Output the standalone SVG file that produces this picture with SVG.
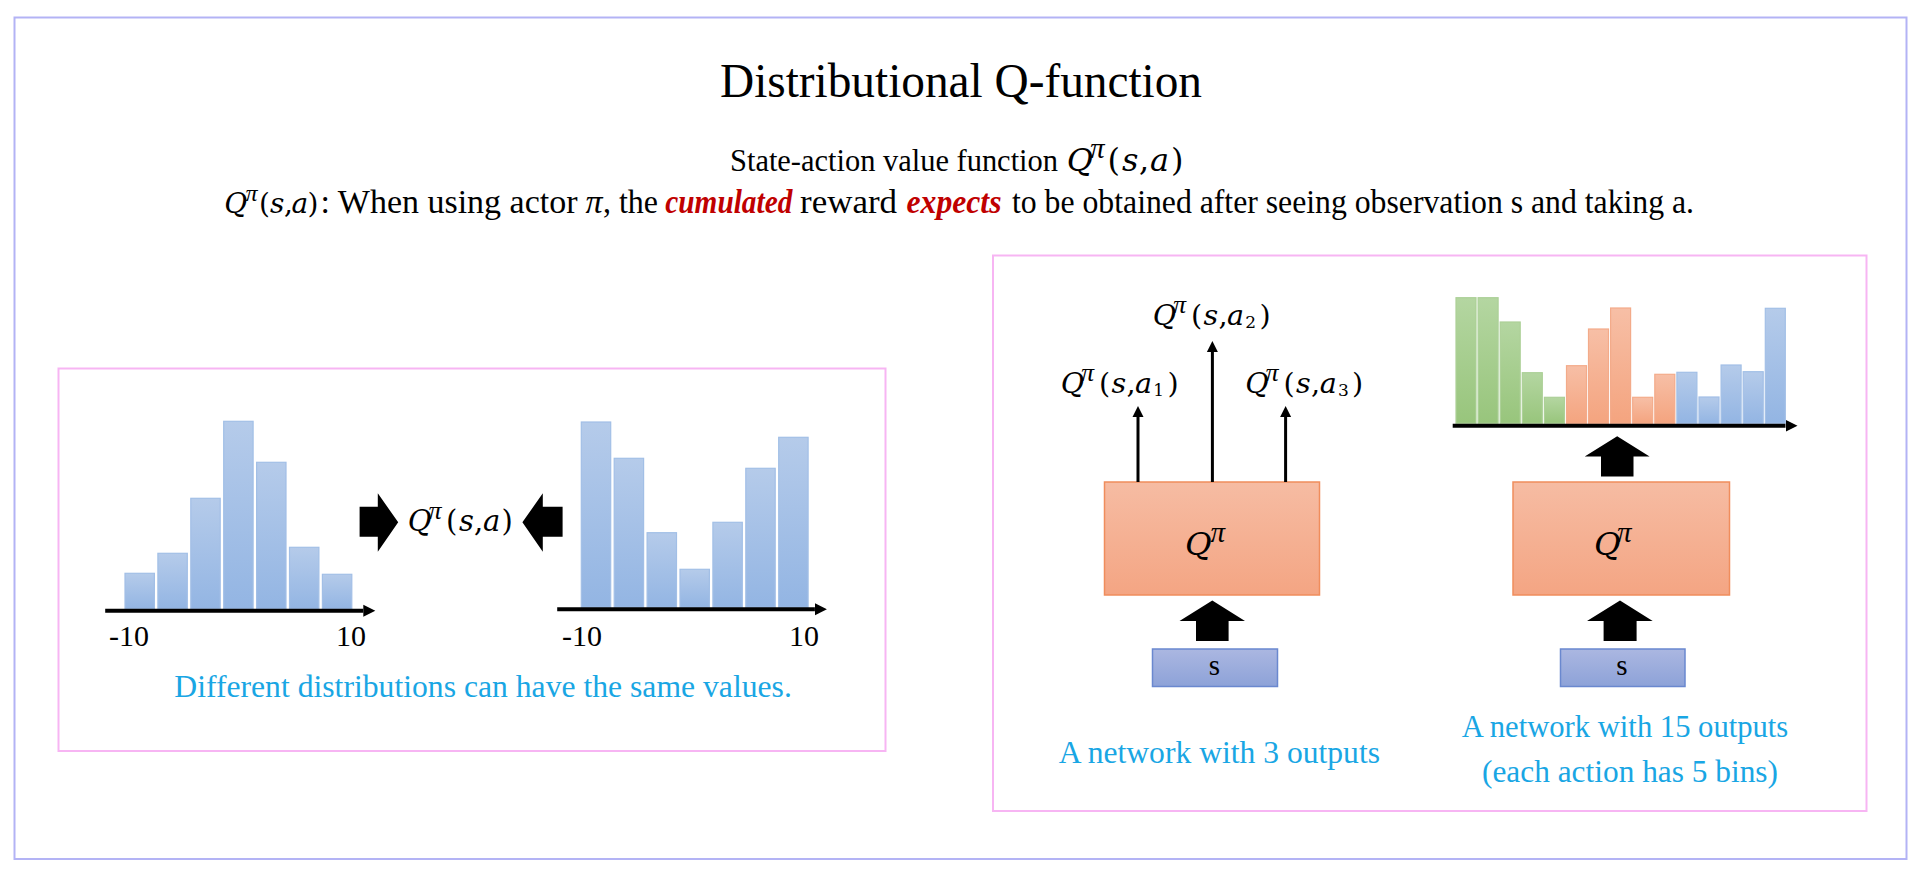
<svg xmlns="http://www.w3.org/2000/svg" width="1919" height="876" viewBox="0 0 1919 876">
<defs>
<style>
.t{font-family:"Liberation Serif","Times New Roman",serif;fill:#000}
.m{font-family:"DejaVu Serif","Liberation Serif",serif;fill:#000}
.p{font-family:"Liberation Serif","Times New Roman",serif;font-style:italic}
.i{font-style:italic}
.red{fill:#c00000;font-weight:bold;font-style:italic}
.cap{fill:#19a6e4}
.bB{fill:url(#gB);stroke:#a2bfe6;stroke-width:1.2}
.bG{fill:url(#gG);stroke:#acd097;stroke-width:1.2}
.bO{fill:url(#gO);stroke:#f3ab8a;stroke-width:1.2}
.qbox{fill:url(#gQ);stroke:#f08d5c;stroke-width:1.5}
.sbox{fill:url(#gS);stroke:#6a88cf;stroke-width:1.5}
.thin{stroke:#000;stroke-width:3;fill:none}
.axis{stroke:#000;stroke-width:4;fill:none}
.blk{fill:#000}
</style>
<linearGradient id="gB" x1="0" y1="0" x2="0" y2="1"><stop offset="0" stop-color="#b5cbea"/><stop offset="1" stop-color="#93b5e3"/></linearGradient>
<linearGradient id="gG" x1="0" y1="0" x2="0" y2="1"><stop offset="0" stop-color="#b4d6a1"/><stop offset="1" stop-color="#98c57c"/></linearGradient>
<linearGradient id="gO" x1="0" y1="0" x2="0" y2="1"><stop offset="0" stop-color="#f7bfa6"/><stop offset="1" stop-color="#f4a47f"/></linearGradient>
<linearGradient id="gQ" x1="0" y1="0" x2="0" y2="1"><stop offset="0" stop-color="#f6bca3"/><stop offset="1" stop-color="#f4a583"/></linearGradient>
<linearGradient id="gS" x1="0" y1="0" x2="0" y2="1"><stop offset="0" stop-color="#abb7e1"/><stop offset="1" stop-color="#8da2d8"/></linearGradient>
<marker id="ah" markerUnits="userSpaceOnUse" markerWidth="12" markerHeight="12" viewBox="0 -6 12 12" refX="1" refY="0" orient="auto"><path d="M0,-5.5 L11,0 L0,5.5 z" fill="#000"/></marker>
<marker id="ahx" markerUnits="userSpaceOnUse" markerWidth="14" markerHeight="14" viewBox="0 -7 14 14" refX="0" refY="0" orient="auto"><path d="M0,-6 L12,0 L0,6 z" fill="#000"/></marker>
</defs>

<rect x="0" y="0" width="1919" height="876" fill="#fff"/>
<rect id="frame" x="14.5" y="17.5" width="1892" height="841.5" fill="none" stroke="#b3b3f5" stroke-width="2"/>

<g id="header">
<text class="t" x="720" y="97" font-size="48" textLength="482" lengthAdjust="spacingAndGlyphs">Distributional Q-function</text>
<text class="t" x="730" y="171" font-size="31" textLength="328" lengthAdjust="spacingAndGlyphs">State-action value function</text>
<text class="m" y="171" font-size="32"><tspan class="i" x="1066.7">Q</tspan><tspan class="p" x="1090" y="157.8" font-size="29">π</tspan><tspan x="1107.5" y="171">(</tspan><tspan class="i" x="1122">s</tspan><tspan x="1139">,</tspan><tspan class="i" x="1150">a</tspan><tspan x="1171">)</tspan></text>
<text class="m" y="213" font-size="28"><tspan class="i" x="224.2">Q</tspan><tspan class="p" x="245.5" y="200.5" font-size="24">π</tspan><tspan x="259" y="213">(</tspan><tspan class="i" x="270">s</tspan><tspan x="284">,</tspan><tspan class="i" x="291.5">a</tspan><tspan x="307.5">)</tspan></text>
<text class="t" x="320.5" y="213" font-size="33" textLength="257" lengthAdjust="spacingAndGlyphs">: When using actor</text>
<text class="t i" x="585.4" y="213" font-size="34">π</text>
<text class="t" x="603" y="213" font-size="33" textLength="55" lengthAdjust="spacingAndGlyphs">, the</text>
<text class="t red" x="665.3" y="213" font-size="33" textLength="127" lengthAdjust="spacingAndGlyphs">cumulated</text>
<text class="t" x="800" y="213" font-size="33" textLength="97" lengthAdjust="spacingAndGlyphs">reward</text>
<text class="t red" x="906.5" y="213" font-size="33" textLength="95" lengthAdjust="spacingAndGlyphs">expects</text>
<text class="t" x="1012" y="213" font-size="33" textLength="682" lengthAdjust="spacingAndGlyphs">to be obtained after seeing observation s and taking a.</text>
</g>

<g id="panel-left">
<rect x="58.5" y="368.5" width="827" height="382.5" fill="none" stroke="#f7b5f3" stroke-width="2"/>
<g id="hist-left">
<rect class="bB" x="125" y="573.3" width="29.4" height="35.7"/>
<rect class="bB" x="157.9" y="553.3" width="29.4" height="55.7"/>
<rect class="bB" x="190.8" y="498.3" width="29.4" height="110.7"/>
<rect class="bB" x="223.7" y="421.3" width="29.4" height="187.7"/>
<rect class="bB" x="256.6" y="462.3" width="29.4" height="146.7"/>
<rect class="bB" x="289.5" y="547.3" width="29.4" height="61.7"/>
<rect class="bB" x="322.4" y="574.3" width="29.4" height="34.7"/>
<line class="axis" x1="105.2" y1="610.7" x2="363.3" y2="610.7" marker-end="url(#ahx)"/>
<text class="t" x="109" y="646" font-size="30">-10</text>
<text class="t" x="336" y="646" font-size="30">10</text>
</g>
<g id="hist-right">
<rect class="bB" x="581.3" y="422" width="29.4" height="185.3"/>
<rect class="bB" x="614.2" y="458.3" width="29.4" height="149"/>
<rect class="bB" x="647.1" y="532.7" width="29.4" height="74.6"/>
<rect class="bB" x="680" y="569.3" width="29.4" height="38"/>
<rect class="bB" x="712.9" y="522.3" width="29.4" height="85"/>
<rect class="bB" x="745.8" y="468.3" width="29.4" height="139"/>
<rect class="bB" x="778.7" y="437.3" width="29.4" height="170"/>
<line class="axis" x1="557.2" y1="609.3" x2="814.9" y2="609.3" marker-end="url(#ahx)"/>
<text class="t" x="562" y="646" font-size="30">-10</text>
<text class="t" x="789" y="646" font-size="30">10</text>
</g>
<g id="q-value">
<text class="m" y="531" font-size="29"><tspan class="i" x="407.8">Q</tspan><tspan class="p" x="428.5" y="519.2" font-size="26">π</tspan><tspan x="446" y="531">(</tspan><tspan class="i" x="459">s</tspan><tspan x="474">,</tspan><tspan class="i" x="483">a</tspan><tspan x="501.5">)</tspan></text>
</g>
<text id="caption-left" class="t cap" x="174.3" y="696.7" font-size="31.5" textLength="617.5" lengthAdjust="spacingAndGlyphs">Different distributions can have the same values.</text>
</g>

<g id="panel-right">
<rect x="993" y="255.5" width="873.5" height="555.5" fill="none" stroke="#f7b5f3" stroke-width="2"/>
<g id="qnet-3">
<rect class="qbox" x="1104.5" y="482" width="215" height="113"/>
<text class="m" y="555" font-size="32.5"><tspan class="i" x="1185">Q</tspan><tspan class="p" x="1210.5" y="541.7" font-size="29">π</tspan></text>
</g>
<g id="s-3">
<rect class="sbox" x="1152.5" y="649" width="125" height="37.5"/>
<text class="t" x="1214.5" y="675" font-size="29" text-anchor="middle">s</text>
</g>
<g id="label-a1">
<text class="m" y="393" font-size="28.6"><tspan class="i" x="1060.7">Q</tspan><tspan class="p" x="1081" y="381.3" font-size="26">π</tspan><tspan x="1099" y="393">(</tspan><tspan class="i" x="1111.5">s</tspan><tspan x="1126.5">,</tspan><tspan class="i" x="1135.1">a</tspan><tspan x="1153.3" y="396.3" font-size="17">1</tspan><tspan x="1167.5" y="393">)</tspan></text>
</g>
<g id="label-a2">
<text class="m" y="325" font-size="28.6"><tspan class="i" x="1152.7">Q</tspan><tspan class="p" x="1173" y="313.3" font-size="26">π</tspan><tspan x="1191" y="325">(</tspan><tspan class="i" x="1203.5">s</tspan><tspan x="1218.5">,</tspan><tspan class="i" x="1227.1">a</tspan><tspan x="1245.3" y="328.3" font-size="17">2</tspan><tspan x="1259.5" y="325">)</tspan></text>
</g>
<g id="label-a3">
<text class="m" y="393" font-size="28.6"><tspan class="i" x="1245.3">Q</tspan><tspan class="p" x="1265.6" y="381.3" font-size="26">π</tspan><tspan x="1283.6" y="393">(</tspan><tspan class="i" x="1296.1">s</tspan><tspan x="1311.1">,</tspan><tspan class="i" x="1319.7">a</tspan><tspan x="1337.9" y="396.3" font-size="17">3</tspan><tspan x="1352.1" y="393">)</tspan></text>
</g>
<text id="caption-3" class="t cap" x="1058.7" y="762.7" font-size="32" textLength="321.3" lengthAdjust="spacingAndGlyphs">A network with 3 outputs</text>

<g id="hist-15">
<rect class="bG" x="1456" y="297.7" width="20" height="125.6"/>
<rect class="bG" x="1478.1" y="297.7" width="20" height="125.6"/>
<rect class="bG" x="1500.2" y="322" width="20" height="101.3"/>
<rect class="bG" x="1522.3" y="372.7" width="20" height="50.6"/>
<rect class="bG" x="1544.4" y="397.3" width="20" height="26"/>
<rect class="bO" x="1566.5" y="365.7" width="20" height="57.6"/>
<rect class="bO" x="1588.5" y="329" width="20" height="94.3"/>
<rect class="bO" x="1610.6" y="308" width="20" height="115.3"/>
<rect class="bO" x="1632.7" y="397.3" width="20" height="26"/>
<rect class="bO" x="1654.8" y="374.3" width="20" height="49"/>
<rect class="bB" x="1676.9" y="372.3" width="20" height="51"/>
<rect class="bB" x="1699" y="397" width="20" height="26.3"/>
<rect class="bB" x="1721.1" y="365" width="20" height="58.3"/>
<rect class="bB" x="1743.2" y="371.7" width="20" height="51.6"/>
<rect class="bB" x="1765.3" y="308.3" width="20" height="115"/>
<line class="axis" x1="1452.7" y1="425.7" x2="1785.5" y2="425.7" marker-end="url(#ahx)"/>
</g>
<g id="qnet-15">
<rect class="qbox" x="1513" y="482" width="216.5" height="113"/>
<text class="m" y="555" font-size="32.5"><tspan class="i" x="1594">Q</tspan><tspan class="p" x="1617" y="541.7" font-size="29">π</tspan></text>
</g>
<g id="s-15">
<rect class="sbox" x="1560.5" y="649" width="124.5" height="37.5"/>
<text class="t" x="1622" y="675" font-size="29" text-anchor="middle">s</text>
</g>
<text id="caption-15" class="t cap" font-size="32"><tspan x="1461.7" y="736.7" textLength="326.6" lengthAdjust="spacingAndGlyphs">A network with 15 outputs</tspan><tspan x="1482" y="781.7" textLength="296" lengthAdjust="spacingAndGlyphs">(each action has 5 bins)</tspan></text>
</g>

<g id="connectors">
<polygon class="blk" points="359.6,506.7 377.8,506.7 377.8,493.3 398.2,522.3 377.8,551.7 377.8,536.7 359.6,536.7"/>
<polygon class="blk" points="562.6,506.7 542.8,506.7 542.8,493.3 522.4,522.3 542.8,551.7 542.8,536.7 562.6,536.7"/>
<line class="thin" x1="1138" y1="482" x2="1138" y2="416" marker-end="url(#ah)"/>
<line class="thin" x1="1212.4" y1="482" x2="1212.4" y2="351" marker-end="url(#ah)"/>
<line class="thin" x1="1285.6" y1="482" x2="1285.6" y2="416" marker-end="url(#ah)"/>
<polygon class="blk" points="1196,641 1196,621 1179.5,621 1212.3,600.5 1245,621 1228.6,621 1228.6,641"/>
<polygon class="blk" points="1603.6,641 1603.6,621 1587,621 1620,600.5 1652.7,621 1636.6,621 1636.6,641"/>
<polygon class="blk" points="1601,476.5 1601,456.5 1584.7,456.5 1617.2,436.2 1649.6,456.5 1633.5,456.5 1633.5,476.5"/>
</g>
</svg>
